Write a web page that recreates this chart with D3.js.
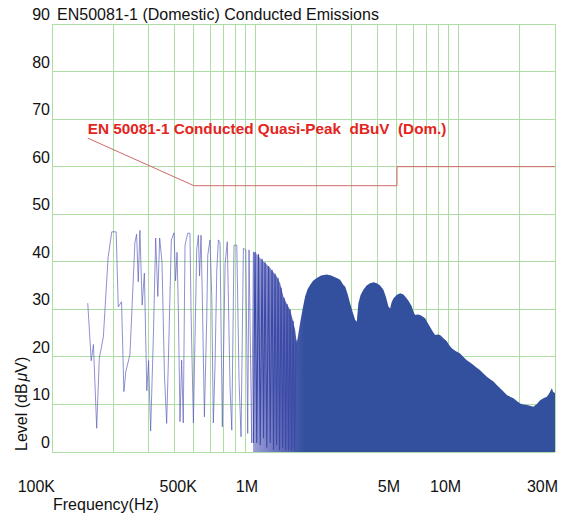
<!DOCTYPE html>
<html>
<head>
<meta charset="utf-8">
<script src="https://cdn.jsdelivr.net/npm/d3@7"></script>
<style>
  html, body { margin: 0; padding: 0; background: #fff; }
  svg { display: block; }
  text { font-family: Arial, "Liberation Sans", sans-serif; }
</style>
</head>
<body>
<svg id="chart" width="569" height="517"></svg>
<script>
// ---------- data ----------
const titleText = "EN50081-1 (Domestic) Conducted Emissions";
const limitLabel = "EN 50081-1 Conducted Quasi-Peak  dBuV  (Dom.)";
const yTickValues = [0, 10, 20, 30, 40, 50, 60, 70, 80, 90];
const xTickValues = [1e5, 5e5, 1e6, 5e6, 1e7, 3e7];
const xTickLabels = ["100K", "500K", "1M", "5M", "10M", "30M"];
const gridFreqs = [1e5,2e5,3e5,4e5,5e5,6e5,7e5,8e5,9e5,
                   1e6,2e6,3e6,4e6,5e6,6e6,7e6,8e6,9e6,
                   1e7,2e7,3e7];

// limit line (EN 50081-1 QP, domestic)
const limitFreqMHz = [0.15, 0.5, 5, 5, 30];
const limitLevel   = [66,   56,  56, 60, 60];

// measured trace, sparse low-frequency part (kHz, dBuV)
const traceFreqKHz = [150,156,160,166,171,179,189,197,207,212,220,226,231,242,256,261,266,271,278,285,
  293,299,306,316,324,332,339,348,358,367,374,387,399,406,413,419,427,435,443,452,
  466,478,484,497,506,516,526,533,542,550,563,578,585,600,612,623,635,648,660,672,
  690,712,730,753,768,788,813,834,853,876,900,920,934,963,981];
const traceLevel = [31.3,19.2,22.6,5.0,19.7,24.2,41.0,46.3,46.3,30.5,31.6,12.7,16.9,20.5,44.0,45.8,35.8,46.6,30.9,37.6,
  12.9,19.2,4.4,25.0,45.0,32.7,45.0,40.0,16.0,6.0,18.7,44.6,46.1,36.0,42.0,30.0,6.4,19.3,6.1,43.5,
  46.0,46.0,29.2,6.1,23.5,42.5,45.6,37.0,45.6,32.4,7.4,27.8,41.4,44.6,32.7,6.1,17.9,38.3,44.6,44.0,
  5.3,39.7,44.2,13.7,4.6,43.5,43.5,15.0,3.2,42.8,42.5,3.9,42.5,1.9,42.1];

// transition part 1 - 1.6 MHz, where the harmonics crowd together (kHz, dBuV)
const transFreqKHz = [981,1000,1019,1040,1061,1083,1101,1120,1142,1166,1188,1213,1233,1255,1276,1298,
  1320,1343,1366,1390,1413,1438,1462,1487,1513,1539,1565,1592];
const transLevel = [1.9,42.0,2.0,41.5,1.5,40.5,3.0,39.8,1.0,39.0,2.0,38.2,0.5,37.4,1.5,36.5,
  0.5,34.5,1.0,32.3,0.5,31.0,0.5,29.9,0.5,27.5,0.5,23.5];

// dense high-frequency part: upper envelope (MHz, dBuV), filled down to 0
const envFreqMHz = [0.978,1.011,1.058,1.120,1.186,1.279,1.328,1.379,1.438,1.487,1.539,1.574,1.605,1.629,1.666,
  1.714,1.764,1.814,1.866,1.931,2.014,2.114,2.255,2.368,2.527,2.623,2.723,2.776,2.856,2.938,
  3.022,3.109,3.170,3.228,3.309,3.416,3.543,3.686,3.835,3.977,4.129,4.286,4.419,4.537,4.624,
  4.704,4.801,4.977,5.180,5.377,5.589,5.737,5.915,6.024,6.141,6.317,6.499,6.686,6.878,7.076,
  7.279,7.488,7.703,7.925,8.152,8.464,8.797,9.031,9.311,9.665,10.23,10.62,11.04,11.46,11.90,
  12.36,12.83,13.32,13.85,14.38,14.93,15.51,16.10,16.72,17.38,18.04,18.73,19.46,20.20,20.97,
  21.79,22.63,23.49,24.42,25.35,26.32,27.35,28.08,28.95,29.38,30.0];
const envTop = [42.1,41.8,40.8,39.8,38.7,36.9,35.5,32.7,31.0,29.9,27.5,25.7,22.9,24.5,27.1,
  30.0,32.7,34.2,35.1,36.0,36.6,37.1,37.3,37.1,36.6,36.2,35.1,34.8,33.2,31.3,
  29.5,27.8,27.4,31.3,33.0,34.1,35.0,35.5,35.7,35.5,35.0,34.1,32.5,30.6,30.2,
  31.5,32.3,33.0,33.4,33.1,32.3,31.6,30.6,29.5,28.8,28.9,28.8,28.5,28.1,27.2,
  26.3,25.4,24.6,24.7,24.6,23.9,23.3,22.5,21.8,21.3,20.7,20.0,19.3,18.8,18.3,
  17.7,17.2,16.5,15.8,15.3,14.8,14.1,13.4,12.7,12.0,11.6,11.3,10.7,10.2,10.0,
  9.9,9.7,9.5,10.1,10.9,11.3,11.6,12.3,13.4,12.6,12.4];

// ---------- layout ----------
const svg = d3.select("#chart");
const plotL = 52, plotR = 555, plotT = 24, plotB = 452;
const x = d3.scaleLog().domain([1e5, 3e7]).range([plotL, plotR]);
const y = d3.scaleLinear().domain([0, 90]).range([plotB, plotT]);

// gridlines
const gridColor = "#addca4";
svg.append("g").selectAll("line").data(gridFreqs).join("line")
  .attr("x1", d => x(d)).attr("x2", d => x(d))
  .attr("y1", plotT).attr("y2", plotB)
  .attr("stroke", gridColor).attr("stroke-width", 1)
  .attr("shape-rendering", "crispEdges");
svg.append("g").selectAll("line").data(yTickValues).join("line")
  .attr("x1", plotL).attr("x2", plotR)
  .attr("y1", d => y(d)).attr("y2", d => y(d))
  .attr("stroke", gridColor).attr("stroke-width", 1)
  .attr("shape-rendering", "crispEdges");

// gradient for the transition into the dense region
const defs = svg.append("defs");
const grad = defs.append("linearGradient").attr("id", "denseGrad")
  .attr("gradientUnits", "userSpaceOnUse")
  .attr("x1", x(0.98e6)).attr("x2", x(1.75e6)).attr("y1", 0).attr("y2", 0);
grad.append("stop").attr("offset", 0).attr("stop-color", "#9a9dd6");
grad.append("stop").attr("offset", 0.6).attr("stop-color", "#5e68b6");
grad.append("stop").attr("offset", 1).attr("stop-color", "#33509f");

// dense region as area
const envData = envFreqMHz.map((f, i) => ({ f: f * 1e6, v: envTop[i] }));
svg.append("path").datum(envData)
  .attr("d", d3.area().x(d => x(d.f)).y0(y(0)).y1(d => y(d.v)))
  .attr("fill", "url(#denseGrad)");

// transition harmonics as dark line over the light fill
const transData = transFreqKHz.map((f, i) => ({ f: f * 1e3, v: transLevel[i] }));
svg.append("path").datum(transData)
  .attr("d", d3.line().x(d => x(d.f)).y(d => y(d.v)))
  .attr("fill", "none").attr("stroke", "#3a4aa6")
  .attr("stroke-width", 1.1).attr("stroke-linejoin", "round");

// sparse trace as line
const traceData = traceFreqKHz.map((f, i) => ({ f: f * 1e3, v: traceLevel[i] }));
svg.append("path").datum(traceData)
  .attr("d", d3.line().x(d => x(d.f)).y(d => y(d.v)))
  .attr("fill", "none").attr("stroke", "#5a5cba")
  .attr("stroke-width", 0.8).attr("stroke-opacity", 0.85)
  .attr("stroke-linejoin", "round");

// limit line
const limitData = limitFreqMHz.map((f, i) => ({ f: f * 1e6, v: limitLevel[i] }));
svg.append("path").datum(limitData)
  .attr("d", d3.line().x(d => x(d.f)).y(d => y(d.v)))
  .attr("fill", "none").attr("stroke", "#d06a6a").attr("stroke-width", 1);

// limit label
svg.append("text").attr("x", x(0.15e6)).attr("y", 134)
  .attr("fill", "#e42420").attr("font-weight", "bold").attr("font-size", 15.3)
  .style("white-space", "pre")
  .text(limitLabel);

// y tick labels
svg.append("g").selectAll("text").data(yTickValues).join("text")
  .attr("x", 50).attr("y", d => y(d) - 4)
  .attr("text-anchor", "end").attr("font-size", 16).attr("fill", "#111")
  .text(d => d);

// title
svg.append("text").attr("x", 57).attr("y", 20)
  .attr("font-size", 16).attr("fill", "#111").text(titleText);

// x tick labels
svg.append("g").selectAll("text").data(xTickValues).join("text")
  .attr("x", d => x(d) + 3).attr("y", 492)
  .attr("text-anchor", "end").attr("font-size", 16).attr("fill", "#111")
  .text((d, i) => xTickLabels[i]);

// axis titles
svg.append("text").attr("x", 53).attr("y", 510)
  .attr("font-size", 16).attr("fill", "#111").text("Frequency(Hz)");
const yt = svg.append("text")
  .attr("transform", "translate(27,451) rotate(-90)")
  .attr("font-size", 16).attr("fill", "#111");
yt.append("tspan").text("Level (dB");
yt.append("tspan").attr("font-style", "italic").attr("dx", 2).text("μ");
yt.append("tspan").text("V)");
</script>
</body>
</html>
